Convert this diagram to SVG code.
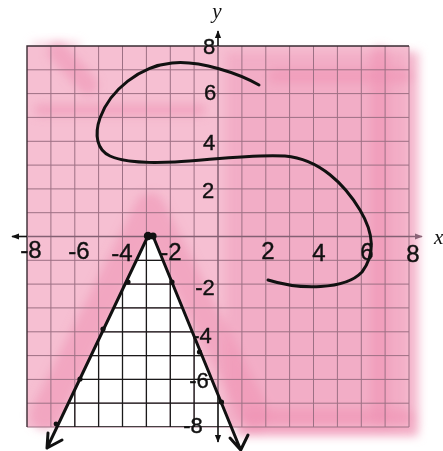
<svg xmlns="http://www.w3.org/2000/svg" width="443" height="451" viewBox="0 0 443 451">
<defs>
<style>
.grid{fill:none;stroke:#9d7084;stroke-width:1}
.gridk{fill:none;stroke:#1a1a1a;stroke-width:1.3}
.border{fill:none;stroke:#3a2c33;stroke-width:1.4}
.axis{fill:none;stroke:#846073;stroke-width:1.5}
.axisk{fill:none;stroke:#111;stroke-width:1.6}
.ink{fill:none;stroke:#111;stroke-width:3;stroke-linecap:round;stroke-linejoin:round}
.dot{fill:#111}
.lbl{font-family:"Liberation Sans","DejaVu Sans",sans-serif;font-size:22px;fill:#111;text-anchor:middle;stroke:#111;stroke-width:.4}
.xl{font-size:24px}
.axn{font-family:"Liberation Serif","DejaVu Serif",serif;font-style:italic;font-size:21px;fill:#111}
.brush{fill:none;stroke:#ee92b3;stroke-linecap:round;stroke-linejoin:round;opacity:.55}
</style>
<filter id="soft" x="-30%" y="-30%" width="160%" height="160%"><feGaussianBlur stdDeviation="5"/></filter>
<clipPath id="tri"><polygon points="148,236 153,236 231.3,427 57,427"/></clipPath>
<marker id="arrK" viewBox="0 0 10 10" refX="9" refY="5" markerWidth="8" markerHeight="8" orient="auto" markerUnits="userSpaceOnUse"><path d="M0,1 L10,5 L0,9 z" fill="#111"/></marker>
<marker id="arrG" viewBox="0 0 10 10" refX="9" refY="5" markerWidth="8" markerHeight="8" orient="auto" markerUnits="userSpaceOnUse"><path d="M0,1 L10,5 L0,9 z" fill="#8a6477"/></marker>
<path id="gridpath" d="M50.9,46V427M74.8,46V427M98.6,46V427M122.5,46V427M146.4,46V427M170.3,46V427M194.1,46V427M241.9,46V427M265.8,46V427M289.6,46V427M313.5,46V427M337.4,46V427M361.3,46V427M385.1,46V427M409,46V427M27,69.8H409M27,93.6H409M27,117.4H409M27,141.3H409M27,165.1H409M27,188.9H409M27,212.7H409M27,260.3H409M27,284.1H409M27,307.9H409M27,331.8H409M27,355.6H409M27,379.4H409M27,403.2H409M27,427H409"/>
</defs>

<g id="shading">
  <g filter="url(#soft)">
    <rect x="236" y="392" width="182" height="44" fill="#f3aac4"/>
    <rect x="395" y="52" width="24" height="375" fill="#f5bcd0"/>
    <rect x="32" y="42" width="48" height="8" fill="#f7c9d9" opacity=".8"/>
  </g>
  <rect x="27" y="46" width="382" height="381" fill="#f6bfd2"/>
  <g filter="url(#soft)">
    <rect x="226" y="52" width="182" height="372" fill="#f0a1be" opacity=".6"/>
    <path class="brush" d="M45,415 L150,208 L255,415" stroke-width="30"/>
    <path class="brush" d="M58,52 L88,85" stroke-width="20"/>
    <path class="brush" d="M380,55 L380,418" stroke-width="18"/>
    <path class="brush" d="M250,418 L405,418" stroke-width="18"/>
    <path class="brush" d="M275,76 L405,76" stroke-width="14" opacity=".35"/>
    <path class="brush" d="M40,110 L200,110" stroke-width="12" opacity=".25"/>
  </g>
  <polygon points="148,236 153,236 231.3,427 57,427" fill="#ffffff"/>
</g>

<g id="grid">
  <use href="#gridpath" class="grid"/>
  <path class="border" d="M27,427V46H409"/>
  <g clip-path="url(#tri)">
    <use href="#gridpath" class="gridk"/>
    <path class="axisk" d="M218,46V427M27,236.5H409"/>
  </g>
</g>

<g id="axes">
  <path class="axis" d="M27,236.5H409M218,46V394"/>
  <line class="axis" x1="409" y1="236.5" x2="422" y2="236.5" marker-end="url(#arrG)"/>
  <line class="axisk" x1="27" y1="236.5" x2="12" y2="236.5" marker-end="url(#arrK)"/>
  <line class="axisk" x1="218" y1="46" x2="218" y2="31" marker-end="url(#arrK)"/>
  <line class="axisk" x1="218" y1="427" x2="218" y2="442" marker-end="url(#arrK)"/>
  <text class="axn" x="217" y="18" text-anchor="middle">y</text>
  <text class="axn" x="434" y="244">x</text>
</g>

<g id="ticklabels">
  <text class="lbl" x="209" y="54">8</text>
  <text class="lbl" x="210" y="100">6</text>
  <text class="lbl" x="209" y="150">4</text>
  <text class="lbl" x="208" y="198">2</text>
  <text class="lbl" x="205" y="295">-2</text>
  <text class="lbl" x="202" y="343">-4</text>
  <text class="lbl" x="199" y="388">-6</text>
  <text class="lbl" x="193" y="433">-8</text>
  <text class="lbl xl" x="31" y="258">-8</text>
  <text class="lbl xl" x="79" y="259">-6</text>
  <text class="lbl xl" x="122" y="261">-4</text>
  <text class="lbl xl" x="171" y="260">-2</text>
  <text class="lbl xl" x="268" y="259">2</text>
  <text class="lbl xl" x="319" y="261">4</text>
  <text class="lbl xl" x="367" y="260">6</text>
  <text class="lbl xl" x="413" y="262">8</text>
</g>

<g id="connectors">
  <path id="curve" class="ink" d="M259,85 C240,74 200,60 172,63 C140,66 110,90 100,118 C94,135 97,150 110,156 C125,163 150,163 175,162 C210,160 250,154 285,156 C320,159 345,185 360,210 C372,230 377,252 362,272 C345,290 300,290 268,280"/>
  <path id="leftline" class="ink" d="M148,236 L47,448 M48,433 L47,448 L62,440"/>
  <path id="rightline" class="ink" d="M153,236 L240.7,450 M230,438 L240.7,450 L248,435"/>
</g>

<g id="points">
  <circle class="dot" cx="148" cy="236" r="4.2"/>
  <circle class="dot" cx="153" cy="236" r="3.6"/>
  <circle class="dot" cx="128" cy="282" r="2.6"/>
  <circle class="dot" cx="103" cy="329" r="2.6"/>
  <circle class="dot" cx="80" cy="379" r="2.6"/>
  <circle class="dot" cx="56" cy="424" r="2.4"/>
  <circle class="dot" cx="172" cy="282" r="2.6"/>
  <circle class="dot" cx="199.5" cy="352" r="2.6"/>
  <circle class="dot" cx="221.5" cy="402" r="2.6"/>
</g>
</svg>
